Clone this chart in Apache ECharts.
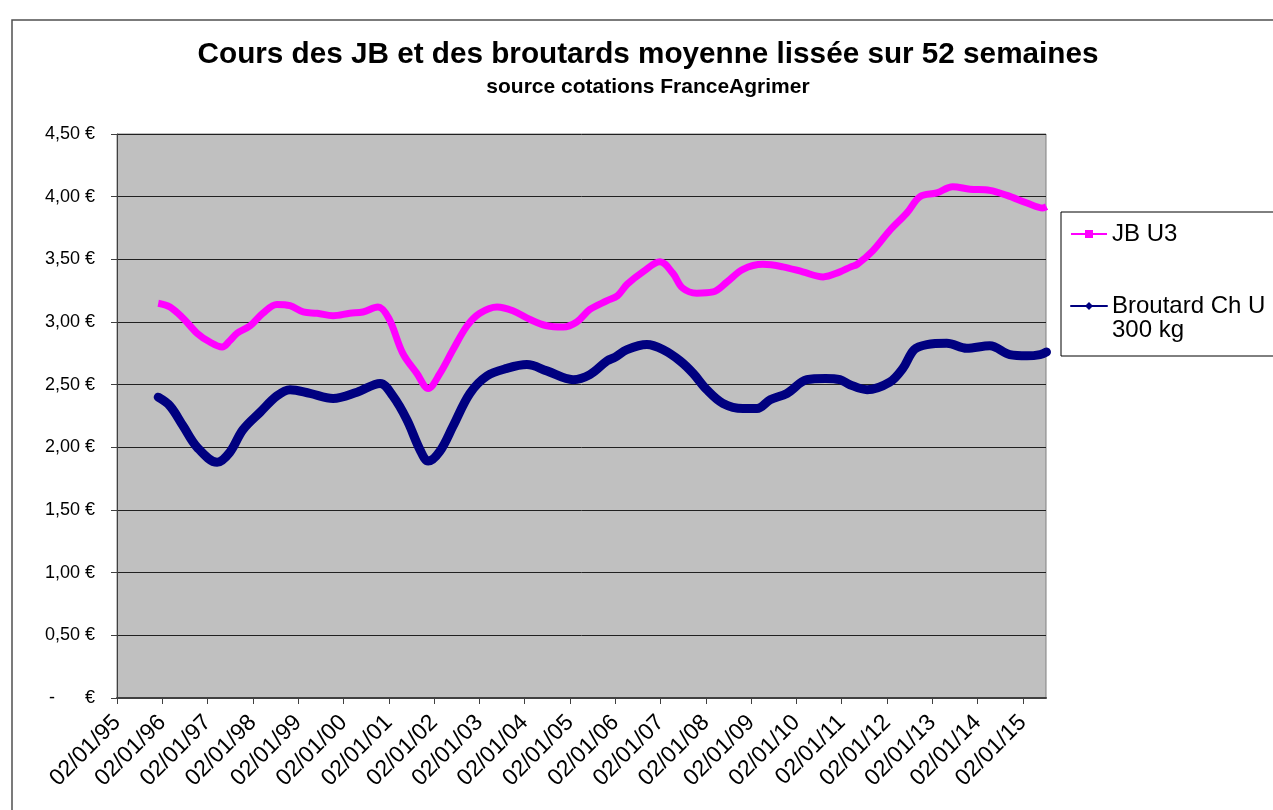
<!DOCTYPE html>
<html>
<head>
<meta charset="utf-8">
<title>Cours des JB et des broutards</title>
<script src="https://cdn.jsdelivr.net/npm/echarts@6/dist/echarts.min.js"></script>
<style>
    html, body { margin: 0; padding: 0; background: #fff; }
    #chart { width: 1273px; height: 810px; }
</style>
</head>
<body>
<div id="chart"></div>
<script>
// dates en années décimales, prix en €/kg (moyenne lissée sur 52 semaines)
var jbDates = [1995.91, 1996.17, 1996.46, 1996.77, 1997.05, 1997.32, 1997.49, 1997.65, 1997.94, 1998.22,
    1998.53, 1998.82, 1999.11, 1999.42, 1999.77, 2000.14, 2000.43, 2000.76, 2001.0, 2001.31,
    2001.62, 2001.87, 2002.13, 2002.42, 2002.73, 2003.01, 2003.39, 2003.74, 2004.12, 2004.49,
    2004.85, 2005.15, 2005.44, 2005.82, 2006.05, 2006.26, 2006.61, 2006.99, 2007.27, 2007.49,
    2007.8, 2008.16, 2008.47, 2008.82, 2009.26, 2009.7, 2010.14, 2010.59, 2010.96, 2011.2,
    2011.34, 2011.69, 2012.06, 2012.44, 2012.73, 2013.1, 2013.45, 2013.83, 2014.27, 2014.65,
    2015.09, 2015.44, 2015.52];
var jbPrix = [3.15, 3.12, 3.03, 2.91, 2.84, 2.80, 2.85, 2.91, 2.97, 3.07,
    3.14, 3.13, 3.08, 3.07, 3.05, 3.07, 3.08, 3.12, 3.03, 2.75,
    2.59, 2.47, 2.59, 2.78, 2.97, 3.07, 3.12, 3.09, 3.02, 2.97,
    2.96, 3.00, 3.10, 3.17, 3.21, 3.30, 3.40, 3.48, 3.39, 3.27,
    3.23, 3.24, 3.32, 3.42, 3.46, 3.44, 3.40, 3.36, 3.40, 3.44,
    3.46, 3.57, 3.73, 3.87, 4.00, 4.03, 4.08, 4.06, 4.05, 4.01,
    3.95, 3.91, 3.92];

var brDates = [1995.91, 1996.17, 1996.46, 1996.77, 1997.21, 1997.49, 1997.78, 1998.16, 1998.53, 1998.82,
    1999.26, 1999.77, 2000.3, 2000.81, 2001.09, 2001.4, 2001.69, 2001.87, 2002.13, 2002.42,
    2002.79, 2003.17, 2003.61, 2004.05, 2004.49, 2005.07, 2005.44, 2005.82, 2006.0, 2006.26,
    2006.7, 2007.05, 2007.43, 2007.72, 2008.02, 2008.38, 2008.82, 2009.13, 2009.42, 2009.79,
    2010.23, 2010.64, 2010.96, 2011.18, 2011.56, 2012.06, 2012.35, 2012.6, 2012.88, 2013.32,
    2013.76, 2014.27, 2014.71, 2015.09, 2015.38, 2015.52];
var brPrix = [2.40, 2.33, 2.17, 2.00, 1.88, 1.96, 2.14, 2.28, 2.41, 2.46,
    2.43, 2.39, 2.44, 2.51, 2.41, 2.22, 1.98, 1.89, 1.97, 2.17,
    2.43, 2.57, 2.63, 2.66, 2.61, 2.54, 2.58, 2.69, 2.72, 2.78,
    2.82, 2.78, 2.69, 2.59, 2.46, 2.35, 2.31, 2.31, 2.38, 2.43,
    2.54, 2.55, 2.54, 2.50, 2.46, 2.52, 2.63, 2.78, 2.82, 2.83,
    2.79, 2.81, 2.74, 2.73, 2.74, 2.76];

var serieNoms = ['JB U3', 'Broutard Ch U 300 kg'];
var anneeMin = 1995;
var anneeMax = 2015.51;

function paires(xs, ys) {
    var out = [];
    for (var i = 0; i < xs.length; i++) {
        out.push([xs[i], ys[i]]);
    }
    return out;
}

var police = 'Liberation Sans, Arial, sans-serif';
var chart = echarts.init(document.getElementById('chart'));

var option = {
    animation: false,
    textStyle: { fontFamily: police },
    title: [
        {
            text: 'Cours des JB et des broutards moyenne lissée sur 52 semaines',
            left: 643,
            top: 35,
            textAlign: 'center',
            textStyle: { fontSize: 29.7, fontWeight: 'bold', color: '#000', fontFamily: police }
        },
        {
            text: 'source cotations FranceAgrimer',
            left: 643,
            top: 72,
            textAlign: 'center',
            textStyle: { fontSize: 21, fontWeight: 'bold', color: '#000', fontFamily: police }
        }
    ],
    graphic: [
        {
            // cadre de la zone de graphique (coupé à droite et en bas)
            type: 'rect',
            shape: { x: 12, y: 20, width: 2000, height: 2000 },
            style: { fill: null, stroke: '#505050', lineWidth: 1.5 },
            z: -1
        }
    ],
    legend: {
        orient: 'vertical',
        left: 1061,
        top: 212,
        padding: [10, 40, 14, 9],
        itemGap: 24,
        itemWidth: 36,
        itemHeight: 10,
        borderColor: '#000',
        borderWidth: 1,
        backgroundColor: '#fff',
        lineStyle: { width: 2 },
        textStyle: { fontSize: 24, lineHeight: 24, color: '#000', fontFamily: police },
        formatter: function (name) {
            if (name === serieNoms[1]) {
                return ' \nBroutard Ch U\n300 kg';
            }
            return name;
        },
        data: serieNoms
    },
    grid: {
        left: 117,
        right: 227,
        top: 134,
        bottom: 112,
        show: true,
        backgroundColor: '#C0C0C0',
        borderColor: '#808080',
        borderWidth: 1
    },
    xAxis: {
        type: 'value',
        min: anneeMin,
        max: anneeMax,
        interval: 1,
        splitLine: { show: false },
        axisLine: { show: true, lineStyle: { color: '#404040', width: 2 } },
        axisTick: { show: true, length: 6, lineStyle: { color: '#404040' } },
        axisLabel: {
            rotate: 45,
            fontSize: 23,
            color: '#000',
            margin: 21,
            showMaxLabel: false,
            formatter: function (v) {
                return '02/01/' + String(Math.round(v)).slice(2);
            }
        }
    },
    yAxis: {
        type: 'value',
        min: 0,
        max: 4.5,
        interval: 0.5,
        axisLine: { show: true, lineStyle: { color: '#404040', width: 1 } },
        axisTick: { show: true, length: 6, lineStyle: { color: '#404040' } },
        splitLine: { show: true, lineStyle: { color: '#202020', width: 1 } },
        axisLabel: {
            fontSize: 18,
            color: '#000',
            margin: 22,
            formatter: function (v) {
                if (v === 0) {
                    return '-      €';
                }
                return v.toFixed(2).replace('.', ',') + ' €';
            }
        }
    },
    series: [
        {
            name: serieNoms[0],
            type: 'line',
            data: paires(jbDates, jbPrix),
            smooth: 0.35,
            symbol: 'rect',
            symbolSize: 7,
            showSymbol: false,
            color: '#FF00FF',
            lineStyle: { width: 7, color: '#FF00FF' }
        },
        {
            name: serieNoms[1],
            type: 'line',
            data: paires(brDates, brPrix),
            smooth: 0.35,
            symbol: 'diamond',
            symbolSize: 10,
            showSymbol: false,
            color: '#000080',
            lineStyle: { width: 9, color: '#000080', cap: 'round' }
        }
    ]
};

chart.setOption(option);
</script>
</body>
</html>
